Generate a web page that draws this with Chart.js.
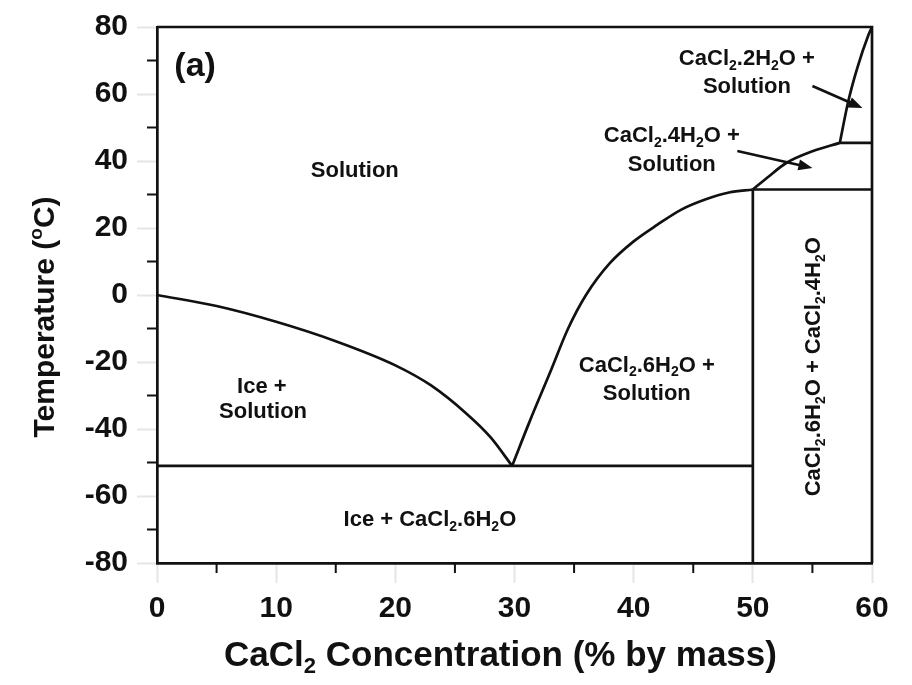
<!DOCTYPE html>
<html>
<head>
<meta charset="utf-8">
<script src="https://cdn.jsdelivr.net/npm/chart.js@4.4.1/dist/chart.umd.min.js"></script>
<style>
  html, body { margin: 0; padding: 0; background: #fff; }
  #wrap { width: 912px; height: 685px; }
</style>
</head>
<body>
<div id="wrap"><canvas id="chart" width="912" height="685"></canvas></div>
<script>
// --- data ---
const iceX = [0, 5, 10, 15, 20, 23, 26, 28, 29.8];
const iceT = [0, -3.3, -8, -13.8, -21, -27, -35.5, -42.5, -51];

const hexX = [29.8, 31.3, 33, 34.5, 36, 38, 40, 42, 44, 46, 48, 50];
const hexT = [-51, -37.5, -23, -10, 0, 9.5, 16, 21, 25.5, 28.5, 30.6, 31.5];

const tetraX = [50, 51.2, 52.8, 55, 57.3];
const tetraT = [31.5, 35, 39.4, 42.9, 45.4];

const diX = [57.3, 58.0, 58.75, 59.7, 60];
const diT = [45.4, 57.7, 67.6, 77.6, 80];

const eutecticX = [0, 50];
const eutecticT = [-51, -51];
const hexLineX = [50, 50];
const hexLineT = [-80, 31.5];
const hexTopX = [50, 60];
const hexTopT = [31.5, 31.5];
const tetraTopX = [57.3, 60];
const tetraTopT = [45.4, 45.4];

const xTicks = [0, 10, 20, 30, 40, 50, 60];
const yTicks = [-80, -60, -40, -20, 0, 20, 40, 60, 80];

// region labels ("_2" = subscript)
const labelTexts = ["(a)", "Solution", "Ice +", "Solution", "CaCl_2.6H_2O +", "Solution",
  "Ice + CaCl_2.6H_2O", "CaCl_2.4H_2O +", "Solution", "CaCl_2.2H_2O +", "Solution"];
const labelX = [3.2, 16.6, 8.8, 8.9, 41.1, 41.1, 22.9, 43.2, 43.2, 49.5, 49.5];
const labelY = [69, 37.5, -27, -34.5, -20.5, -29, -66.6, 47.9, 39.3, 71, 62.8];
const verticalLabel = "CaCl_2.6H_2O + CaCl_2.4H_2O";
const verticalX = 54.95;
const verticalY = -21.4;

// arrows: from -> to
const arrowFromX = [55.0, 48.7];
const arrowFromY = [62.4, 43.0];
const arrowToX = [59.2, 55.0];
const arrowToY = [55.8, 37.9];

const FONT = "'Liberation Sans', Arial, sans-serif";
const INK = "#111";

const toPts = (xs, ys) => xs.map((x, i) => ({ x: x, y: ys[i] }));

const curve = (xs, ys) => ({
  data: toPts(xs, ys),
  showLine: true,
  borderColor: INK,
  borderWidth: 2.7,
  pointRadius: 0,
  cubicInterpolationMode: "monotone",
});
const straight = (xs, ys) => ({
  data: toPts(xs, ys),
  showLine: true,
  borderColor: INK,
  borderWidth: 2.7,
  pointRadius: 0,
  tension: 0,
});

// draw text with _x subscripts and ^x superscripts
const richParts = (text) => text.split(/([_^].)/).filter((s) => s.length).map((s) => {
  if (s[0] === "_") return { t: s[1], mode: "sub" };
  if (s[0] === "^") return { t: s[1], mode: "sup" };
  return { t: s, mode: "" };
});

const drawRich = (ctx, text, x, y, size) => {
  const parts = richParts(text);
  const small = Math.round(size * 0.62);
  let total = 0;
  parts.forEach((p) => {
    ctx.font = `bold ${p.mode ? small : size}px ${FONT}`;
    p.w = ctx.measureText(p.t).width;
    total += p.w;
  });
  let cx = x - total / 2;
  ctx.textAlign = "left";
  ctx.textBaseline = "alphabetic";
  const base = y + size * 0.36;
  parts.forEach((p) => {
    ctx.font = `bold ${p.mode ? small : size}px ${FONT}`;
    let dy = 0;
    if (p.mode === "sub") dy = size * 0.22;
    if (p.mode === "sup") dy = -size * 0.38;
    ctx.fillText(p.t, cx, base + dy);
    cx += p.w;
  });
};

const decorPlugin = {
  id: "decor",
  afterDraw(chart) {
    const { ctx, chartArea, scales } = chart;
    const xs = scales.x;
    const ys = scales.y;
    ctx.save();
    ctx.strokeStyle = INK;
    ctx.fillStyle = INK;

    // frame top/right
    ctx.lineWidth = 2.7;
    ctx.beginPath();
    ctx.moveTo(chartArea.left, chartArea.top);
    ctx.lineTo(chartArea.right, chartArea.top);
    ctx.lineTo(chartArea.right, chartArea.bottom);
    ctx.stroke();

    // minor ticks
    ctx.lineWidth = 2;
    for (let v = -70; v <= 70; v += 20) {
      const py = ys.getPixelForValue(v);
      ctx.beginPath();
      ctx.moveTo(chartArea.left, py);
      ctx.lineTo(chartArea.left - 10, py);
      ctx.stroke();
    }
    for (let v = 5; v <= 55; v += 10) {
      const px = xs.getPixelForValue(v);
      ctx.beginPath();
      ctx.moveTo(px, chartArea.bottom);
      ctx.lineTo(px, chartArea.bottom + 10);
      ctx.stroke();
    }

    // region labels
    labelTexts.forEach((t, i) => {
      const size = i === 0 ? 34 : 22;
      drawRich(ctx, t, xs.getPixelForValue(labelX[i]), ys.getPixelForValue(labelY[i]), size);
    });

    ctx.save();
    ctx.translate(xs.getPixelForValue(verticalX), ys.getPixelForValue(verticalY));
    ctx.rotate(-Math.PI / 2);
    drawRich(ctx, verticalLabel, 0, 0, 22);
    ctx.restore();

    // arrows
    arrowFromX.forEach((fx, i) => {
      const x0 = xs.getPixelForValue(fx);
      const y0 = ys.getPixelForValue(arrowFromY[i]);
      const x1 = xs.getPixelForValue(arrowToX[i]);
      const y1 = ys.getPixelForValue(arrowToY[i]);
      const a = Math.atan2(y1 - y0, x1 - x0);
      ctx.lineWidth = 2.7;
      ctx.beginPath();
      ctx.moveTo(x0, y0);
      ctx.lineTo(x1 - 8 * Math.cos(a), y1 - 8 * Math.sin(a));
      ctx.stroke();
      ctx.beginPath();
      ctx.moveTo(x1, y1);
      ctx.lineTo(x1 - 14 * Math.cos(a) + 5.5 * Math.sin(a), y1 - 14 * Math.sin(a) - 5.5 * Math.cos(a));
      ctx.lineTo(x1 - 14 * Math.cos(a) - 5.5 * Math.sin(a), y1 - 14 * Math.sin(a) + 5.5 * Math.cos(a));
      ctx.closePath();
      ctx.fill();
    });

    // axis titles
    drawRich(ctx, "CaCl_2 Concentration (% by mass)", (chartArea.left + chartArea.right) / 2 - 14, 653, 35);
    ctx.save();
    ctx.translate(43, 317);
    ctx.rotate(-Math.PI / 2);
    drawRich(ctx, "Temperature (^oC)", 0, 0, 30);
    ctx.restore();

    ctx.restore();
  },
};

const axisBase = {
  type: "linear",
  border: { display: true, color: INK, width: 2.7 },
  grid: {
    display: true,
    drawOnChartArea: false,
    drawTicks: true,
    tickLength: 20,
    tickWidth: 2,
  },
};

new Chart(document.getElementById("chart"), {
  type: "scatter",
  data: {
    datasets: [
      curve(iceX, iceT),
      curve(hexX, hexT),
      curve(tetraX, tetraT),
      curve(diX, diT),
      straight(eutecticX, eutecticT),
      straight(hexLineX, hexLineT),
      straight(hexTopX, hexTopT),
      straight(tetraTopX, tetraTopT),
    ],
  },
  options: {
    responsive: false,
    animation: false,
    layout: { padding: { top: 25, right: 40, left: 0, bottom: 0 } },
    plugins: { legend: { display: false }, tooltip: { enabled: false } },
    scales: {
      x: {
        ...axisBase,
        min: 0,
        max: 60,
        afterFit: (s) => { s.height = 122; },
        afterBuildTicks: (s) => { s.ticks = xTicks.map((v) => ({ value: v })); },
        ticks: { color: INK, padding: 8, maxRotation: 0, autoSkip: false, font: { family: FONT, size: 30, weight: "bold" } },
      },
      y: {
        ...axisBase,
        min: -80,
        max: 80,
        afterFit: (s) => { s.width = 157; },
        afterBuildTicks: (s) => { s.ticks = yTicks.map((v) => ({ value: v })); },
        ticks: { color: INK, padding: 9, autoSkip: false, font: { family: FONT, size: 30, weight: "bold" } },
      },
    },
  },
  plugins: [decorPlugin],
});
</script>
</body>
</html>
